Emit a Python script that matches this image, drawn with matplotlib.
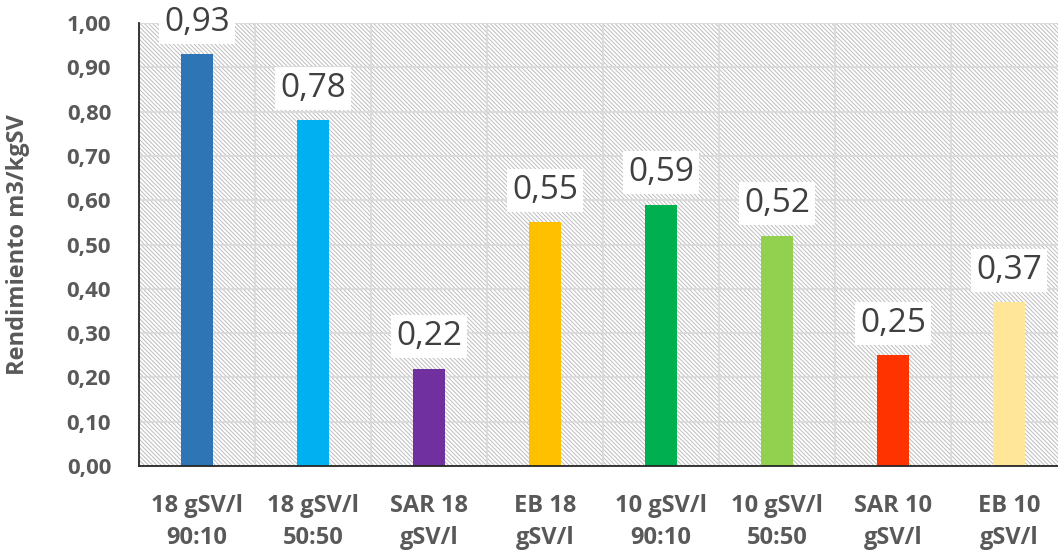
import matplotlib.pyplot as plt
import numpy as np

plt.rcParams['font.family'] = ['Open Sans', 'DejaVu Sans']
plt.rcParams['hatch.color'] = '#bdbdbd'
plt.rcParams['hatch.linewidth'] = 0.7

categories = ['18 gSV/l\n90:10', '18 gSV/l\n50:50', 'SAR 18\ngSV/l', 'EB 18\ngSV/l',
              '10 gSV/l\n90:10', '10 gSV/l\n50:50', 'SAR 10\ngSV/l', 'EB 10\ngSV/l']
rendimiento = [0.93, 0.78, 0.22, 0.55, 0.59, 0.52, 0.25, 0.37]
colores = ['#2E75B6', '#00B0F0', '#7030A0', '#FFC000',
           '#00B050', '#92D050', '#FF3300', '#FFE699']
yticks = np.arange(0, 1.01, 0.1)

fig = plt.figure(figsize=(10.58, 5.57), dpi=100)
W, H = 1058, 557
left, right, top, bottom = 139, 1067, 23, 466
ax = fig.add_axes([left / W, 1 - bottom / H, (right - left) / W, (bottom - top) / H])

x = np.arange(len(categories))
ax.set_xlim(-0.5, len(categories) - 0.5)
ax.set_ylim(0, 1.0)

# fondo rayado
ax.add_patch(plt.Rectangle((0, 0), 1, 1, transform=ax.transAxes, facecolor='white',
                           hatch='\\' * 8, edgecolor='#bdbdbd', linewidth=0, zorder=0))

ax.bar(x, rendimiento, width=0.27, color=colores, zorder=3)

for xi, v in zip(x, rendimiento):
    ax.annotate(f'{v:.2f}'.replace('.', ','), (xi, v), xytext=(0, 23), textcoords='offset points',
                ha='center', va='center', fontsize=24, color='#404040', zorder=5,
                bbox=dict(boxstyle='square,pad=0.15', facecolor='white', edgecolor='none'))

ax.set_yticks(yticks)
ax.set_yticklabels([f'{t:.2f}'.replace('.', ',') for t in yticks],
                   fontsize=16, fontweight='bold', color='#595959')
ax.set_xticks(x)
ax.set_xticklabels(categories, fontsize=17, fontweight='bold', color='#595959', linespacing=1.45)
ax.set_xticks(np.arange(-0.5, len(categories), 1), minor=True)
ax.tick_params(axis='both', which='both', length=0)
ax.tick_params(axis='x', pad=20)
ax.tick_params(axis='y', pad=20)

ax.grid(axis='y', which='major', color='#d9d9d9', linewidth=1.2, zorder=1)
ax.grid(axis='x', which='minor', color='#d9d9d9', linewidth=1.2, zorder=1)
ax.set_axisbelow(True)

for s in ['top', 'right']:
    ax.spines[s].set_visible(False)
for s in ['left', 'bottom']:
    ax.spines[s].set_color('#262626')
    ax.spines[s].set_linewidth(1.3)
    ax.spines[s].set_zorder(4)

ax.set_ylabel('Rendimiento m3/kgSV', fontsize=17, fontweight='bold', color='#595959')
ax.yaxis.set_label_coords(-0.117, 0.5)

fig.savefig('out.png', dpi=100)
